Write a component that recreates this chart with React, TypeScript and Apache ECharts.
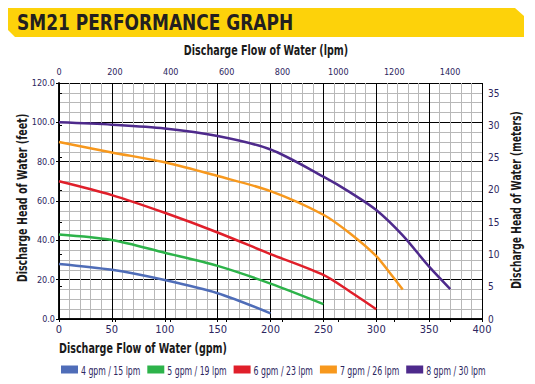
import React, { useEffect, useRef } from "react";
import * as echarts from "echarts";

const FONT = "'Liberation Sans Narrow', 'DejaVu Sans Condensed', 'Roboto', sans-serif";
const LABEL_COLOR = "#2d2660";
const NAME_COLOR = "#1a1a1a";

const seriesNames = ["4 gpm / 15 lpm", "5 gpm / 19 lpm", "6 gpm / 23 lpm", "7 gpm / 26 lpm", "8 gpm / 30 lpm"];
const seriesColors = ["#4f6db8", "#2db34a", "#e01f2a", "#f7981d", "#4e2a8c"];

// [flow gpm, head feet]
const curve4 = [[0, 28], [50, 25], [100, 19.8], [150, 13.1], [200, 2.9]];
const curve5 = [[0, 43], [50, 40.2], [100, 33.7], [150, 27], [200, 18], [250, 7.6]];
const curve6 = [[0, 70], [50, 63], [100, 54], [150, 44], [200, 33], [250, 22.4], [275, 14], [300, 5]];
const curve7 = [[0, 90], [50, 84.7], [100, 79.7], [150, 72.7], [200, 65], [250, 53], [275, 43.6], [300, 32], [312, 24], [325, 15]];
const curve8 = [[0, 100], [50, 98.8], [100, 96.9], [150, 93], [200, 86.2], [250, 72.4], [275, 64.5], [300, 55.4], [325, 42.5], [350, 26.6], [370, 15.2]];
const curves = [curve4, curve5, curve6, curve7, curve8];

const titleText = "SM21 PERFORMANCE GRAPH";
const topAxisName = "Discharge Flow of Water (lpm)";
const bottomAxisName = "Discharge Flow of Water (gpm)";
const leftAxisName = "Discharge Head of Water (feet)";
const rightAxisName = "Discharge Head of Water (meters)";

const GPM_MAX = 400;
const FEET_MAX = 120;
const LPM_PER_GPM = 3.78541;
const FEET_PER_METER = 3.28084;

export default function App() {
  const ref = useRef<HTMLDivElement>(null);
  useEffect(() => {
    if (!ref.current) return;
    const chart = echarts.init(ref.current, undefined, { renderer: "svg" });
    const nameFont = `bold 14px ${FONT}`;
    const NS = 0.76;

    const legendGraphics: any[] = [];
    seriesNames.forEach((name, i) => {
      const x0 = 61 + i * 86.3;
      legendGraphics.push({
        type: "rect",
        shape: { x: x0, y: 365.5, width: 17, height: 8 },
        style: { fill: seriesColors[i] },
      });
      legendGraphics.push({
        type: "text",
        x: x0 + 20,
        y: 370,
        scaleX: 0.72,
        style: { text: name, font: `12px ${FONT}`, fill: LABEL_COLOR, align: "left", verticalAlign: "middle" },
      });
    });

    chart.setOption({
      animation: false,
      backgroundColor: "#ffffff",
      textStyle: { fontFamily: FONT },
      grid: { left: 59, top: 83, width: 423, height: 236, containLabel: false, outerBoundsMode: "none" },
      graphic: [
        {
          type: "polygon",
          shape: { points: [[8, 8], [515, 8], [524, 16], [524, 37], [15, 37], [8, 30]] },
          style: { fill: "#fdd20a" },
        },
        {
          type: "text",
          x: 17,
          y: 23,
          scaleX: 0.9,
          style: { text: titleText, font: `bold 21px ${FONT}`, fill: "#231f20", align: "left", verticalAlign: "middle" },
        },
        {
          type: "text",
          x: 266,
          y: 50,
          scaleX: NS,
          style: { text: topAxisName, font: nameFont, fill: NAME_COLOR, align: "center", verticalAlign: "middle" },
        },
        {
          type: "text",
          x: 59,
          y: 348,
          scaleX: NS,
          style: { text: bottomAxisName, font: nameFont, fill: NAME_COLOR, align: "left", verticalAlign: "middle" },
        },
        {
          type: "text",
          x: 22,
          y: 198,
          rotation: Math.PI / 2,
          scaleX: NS,
          style: { text: leftAxisName, font: nameFont, fill: NAME_COLOR, align: "center", verticalAlign: "middle" },
        },
        {
          type: "text",
          x: 516,
          y: 200,
          rotation: Math.PI / 2,
          scaleX: 0.73,
          style: { text: rightAxisName, font: nameFont, fill: NAME_COLOR, align: "center", verticalAlign: "middle" },
        },
        ...legendGraphics,
      ],
      xAxis: [
        {
          type: "value",
          position: "bottom",
          min: 0,
          max: GPM_MAX,
          interval: 50,
          axisLine: { show: true, lineStyle: { color: "#000", width: 1.5 } },
          axisTick: { show: true, length: 3, lineStyle: { color: "#000" } },
          axisLabel: { fontSize: 11, lineHeight: 11, color: LABEL_COLOR, margin: 5, fontFamily: FONT },
          splitLine: { show: true, lineStyle: { color: "#000", width: 1 } },
          minorTick: { show: false, splitNumber: 5 },
          minorSplitLine: { show: true, lineStyle: { color: "#b8b8b8", width: 1 } },
        },
        {
          type: "value",
          position: "top",
          min: 0,
          max: GPM_MAX * LPM_PER_GPM,
          interval: 200,
          axisLine: { show: true, lineStyle: { color: "#000", width: 1.5 } },
          axisTick: { show: true, length: 3, inside: true, lineStyle: { color: "#000" } },
          axisLabel: {
            fontSize: 9, color: LABEL_COLOR, margin: 7, fontFamily: FONT, showMaxLabel: false,
            formatter: (v: number) => (v % 200 === 0 ? String(v) : ""),
          },
          splitLine: { show: false },
        },
      ],
      yAxis: [
        {
          type: "value",
          position: "left",
          min: 0,
          max: FEET_MAX,
          interval: 20,
          axisLine: { show: true, lineStyle: { color: "#000", width: 1.5 } },
          axisTick: { show: true, length: 3, lineStyle: { color: "#000" } },
          axisLabel: { fontSize: 9, color: LABEL_COLOR, margin: 4, fontFamily: FONT, formatter: (v: number) => v.toFixed(1) },
          splitLine: { show: true, lineStyle: { color: "#000", width: 1 } },
          minorTick: { show: false, splitNumber: 4 },
          minorSplitLine: { show: true, lineStyle: { color: "#b8b8b8", width: 1 } },
        },
        {
          type: "value",
          position: "right",
          min: 0,
          max: FEET_MAX / FEET_PER_METER,
          interval: 5,
          axisLine: { show: true, lineStyle: { color: "#000", width: 1.5 } },
          axisTick: { show: true, length: 3, lineStyle: { color: "#000" } },
          axisLabel: {
            fontSize: 10, lineHeight: 10, color: LABEL_COLOR, margin: 6, fontFamily: FONT, showMaxLabel: false,
            padding: [0, 0, 3, 0],
            formatter: (v: number) => (v % 5 === 0 ? String(v) : ""),
          },
          splitLine: { show: false },
        },
      ],
      series: curves.map((data, i) => ({
        name: seriesNames[i],
        type: "line",
        xAxisIndex: 0,
        yAxisIndex: 0,
        data,
        smooth: 0.3,
        showSymbol: false,
        symbol: "none",
        lineStyle: { color: seriesColors[i], width: 2.5 },
        itemStyle: { color: seriesColors[i] },
        z: 3,
      })),
    });
    return () => chart.dispose();
  }, []);
  return <div ref={ref} style={{ position: "fixed", left: 0, top: 0, width: 535, height: 384 }} />;
}
